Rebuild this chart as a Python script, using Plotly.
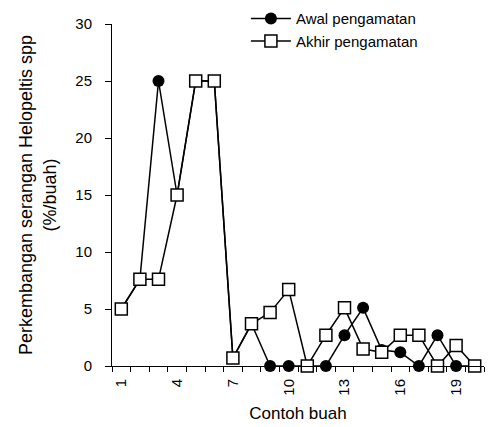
import plotly.graph_objects as go

# Data
sample = list(range(1, 21))
awal = [5, 7.6, 25, 15, 25, 25, 0.7, 3.7, 0, 0, 0, 0, 2.7, 5.1, 1.4, 1.2, 0, 2.7, 0, 0]
akhir = [5, 7.6, 7.6, 15, 25, 25, 0.7, 3.7, 4.7, 6.7, 0, 2.7, 5.1, 1.5, 1.2, 2.7, 2.7, 0, 1.8, 0]
x_tickvals = [1, 4, 7, 10, 13, 16, 19]
x_ticktext = ["1", "4", "7", "10", "13", "16", "19"]
y_tickvals = [0, 5, 10, 15, 20, 25, 30]

FONT = "Liberation Sans, Arial, sans-serif"

fig = go.Figure()
fig.add_trace(go.Scatter(
    x=sample, y=awal, mode="lines+markers", name="Awal pengamatan",
    line=dict(color="black", width=1.5),
    marker=dict(symbol="circle", size=12, color="black"),
    cliponaxis=False,
))
fig.add_trace(go.Scatter(
    x=sample, y=akhir, mode="lines+markers", name="Akhir pengamatan",
    line=dict(color="black", width=1.5),
    marker=dict(symbol="square", size=12, color="white",
                line=dict(color="black", width=1.5)),
    cliponaxis=False,
))

boundaries = [s - 0.5 for s in sample] + [sample[-1] + 0.5]

fig.update_layout(
    width=489, height=427,
    margin=dict(l=112, r=5, t=24, b=61, autoexpand=False),
    plot_bgcolor="white", paper_bgcolor="white",
    font=dict(family=FONT, color="black", size=15),
    showlegend=True,
    legend=dict(
        x=0.36, xref="paper", y=0.995, yref="container",
        xanchor="left", yanchor="top",
        bgcolor="rgba(0,0,0,0)", font=dict(size=15, family=FONT),
        itemwidth=40,
    ),
    xaxis=dict(
        range=[0.5, 20.5], tickmode="array", tickvals=x_tickvals,
        ticktext=x_ticktext, tickangle=-90, ticks="",
        showline=True, linecolor="black", linewidth=1,
        showgrid=False, zeroline=False,
        tickfont=dict(size=15), ticklabelstandoff=6,
        minor=dict(tickmode="array", tickvals=boundaries, ticks="outside",
                   ticklen=5, tickcolor="black", tickwidth=1, showgrid=False),
        title=dict(text="Contoh buah", font=dict(size=17), standoff=12),
    ),
    yaxis=dict(
        range=[0, 30], tickmode="array", tickvals=y_tickvals,
        ticks="outside", ticklen=6, tickcolor="black", tickwidth=1,
        showline=True, linecolor="black", linewidth=1,
        showgrid=False, zeroline=False,
        tickfont=dict(size=15), ticklabelstandoff=10,
        title=dict(text="Perkembangan serangan Helopeltis spp<br>(%/buah)",
                   font=dict(size=18), standoff=14),
    ),
)

fig.write_html("out.html")
